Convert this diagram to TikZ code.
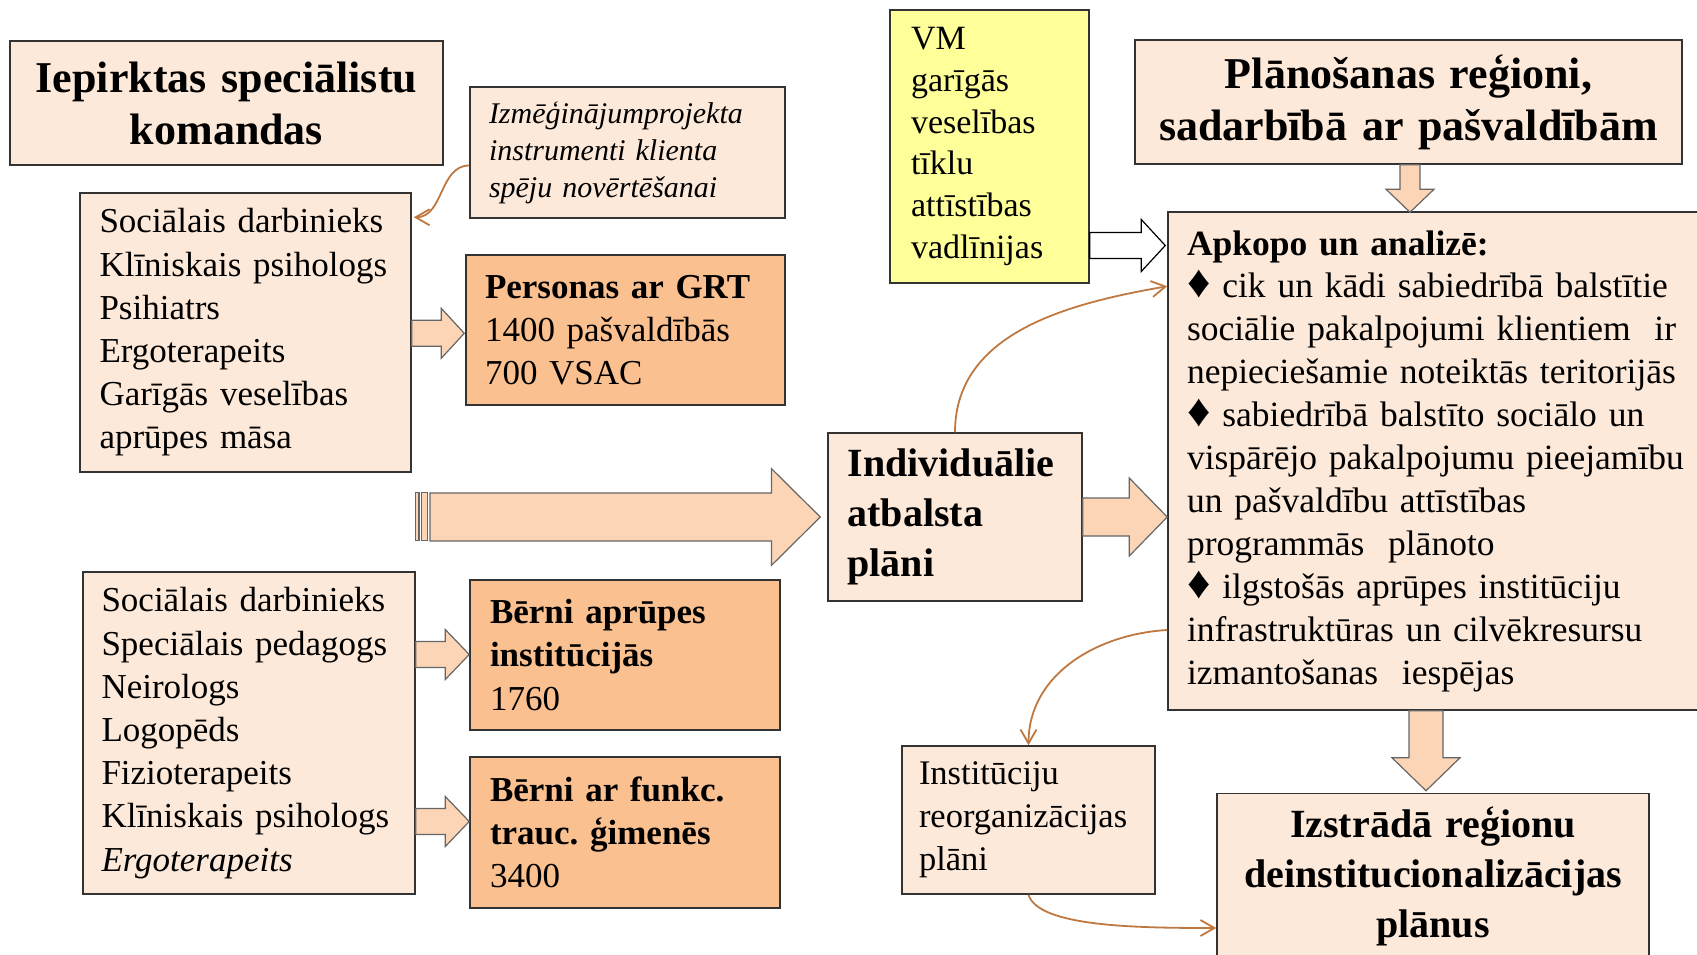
\documentclass[tikz,border=0pt]{standalone}
\usepackage{fontspec}
\setmainfont{Liberation Serif}
\usetikzlibrary{arrows.meta,calc}
\definecolor{peach}{HTML}{FDE9D9}
\definecolor{orangebox}{HTML}{FAC090}
\definecolor{yellowbox}{HTML}{FFFF99}
\definecolor{arrowfill}{HTML}{FBD5B5}
\definecolor{curvecol}{HTML}{BE7840}
% right-pointing block arrow: #1 tail point, #2 tip point, #3 shaft half, #4 head half, #5 head length, #6 style
\newcommand\rblock[6]{\draw[#6] let \p1=#1, \p2=#2 in
  (\x1,\y2+#3) -- (\x2-#5,\y2+#3) -- (\x2-#5,\y2+#4) -- (\x2,\y2) -- (\x2-#5,\y2-#4) -- (\x2-#5,\y2-#3) -- (\x1,\y2-#3) -- cycle;}
% down-pointing block arrow
\newcommand\dblock[6]{\draw[#6] let \p1=#1, \p2=#2 in
  (\x2-#3,\y1) -- (\x2-#3,\y2+#5) -- (\x2-#4,\y2+#5) -- (\x2,\y2) -- (\x2+#4,\y2+#5) -- (\x2+#3,\y2+#5) -- (\x2+#3,\y1) -- cycle;}
\newcommand\fsList{\fontsize{35}{43.2}\selectfont}
\newcommand\fsTitle{\fontsize{44}{52}\selectfont\bfseries}
\newcommand\fsMid{\fontsize{40}{50}\selectfont\bfseries}
\newcommand\dia{{\fontsize{46}{40}\selectfont ♦}}
\frenchspacing
\begin{document}
\begin{tikzpicture}[x=1pt,y=-1pt,
  box/.style={draw=black!80,line width=1.5pt,fill=peach,inner ysep=0pt,align=left},
  cbox/.style={box,align=center},
  blockarrow/.style={draw=black!60,line width=1.2pt,fill=arrowfill},
  whitearrow/.style={draw=black,line width=1.2pt,fill=white},
  curve/.style={draw=curvecol,line width=1.8pt,-{Straight Barb[length=14pt,width=16pt]}}]
\useasboundingbox (0,0) rectangle (1697,955);

% boxes
\node[cbox,text width=413pt,inner xsep=10pt,minimum height=124pt,font=\fsTitle] (A) at (226.5,103)
  {Iepirktas speciālistu\\komandas};
\node[box,text width=277pt,inner xsep=19pt,minimum height=131pt,font=\fontsize{30}{37}\selectfont\itshape] (B) at (627.5,152.5)
  {Izmēģinājumprojekta\\instrumenti klienta\\spēju novērtēšanai};
\node[box,text width=292pt,inner xsep=19.5pt,minimum height=279pt,font=\fsList] (C) at (245.5,332.5)
  {Sociālais darbinieks\\Klīniskais psihologs\\Psihiatrs\\Ergoterapeits\\Garīgās veselības\\aprūpes māsa};
\node[box,fill=orangebox,text width=281pt,inner xsep=19pt,minimum height=150pt,font=\fsList] (D) at (625.5,330)
  {\textbf{Personas ar GRT}\\1400 pašvaldībās\\700 VSAC};
\node[box,text width=295pt,inner xsep=18.5pt,minimum height=322pt,font=\fsList] (E) at (249,733)
  {Sociālais darbinieks\\Speciālais pedagogs\\Neirologs\\Logopēds\\Fizioterapeits\\Klīniskais psihologs\\\textit{Ergoterapeits}};
\node[box,fill=orangebox,text width=270pt,inner xsep=20pt,minimum height=150pt,font=\fsList] (F) at (625,655)
  {\textbf{Bērni aprūpes}\\\textbf{institūcijās}\\1760};
\node[box,fill=orangebox,text width=270pt,inner xsep=20pt,minimum height=151pt,font=\fsList] (G) at (625,832.5)
  {\textbf{Bērni ar funkc.}\\\textbf{trauc. ģimenēs}\\3400};
\node[box,fill=yellowbox,text width=157pt,inner xsep=21pt,minimum height=273pt,font=\fontsize{34}{41.7}\selectfont] (H) at (989.5,146.5)
  {VM\\garīgās\\veselības\\tīklu\\attīstības\\vadlīnijas};
\node[cbox,text width=527pt,inner xsep=10pt,minimum height=124pt,font=\fsTitle] (I) at (1408.5,102)
  {Plānošanas reģioni,\\sadarbībā ar pašvaldībām};
\node[box,text width=514pt,inner xsep=19pt,minimum height=498pt,font=\fontsize{35.5}{42.9}\selectfont] (J) at (1444,461)
  {\textbf{Apkopo un analizē:}\\\dia\ cik un kādi sabiedrībā balstītie\\sociālie pakalpojumi klientiem \ ir\\nepieciešamie noteiktās teritorijās\\\dia\ sabiedrībā balstīto sociālo un\\vispārējo pakalpojumu pieejamību\\un pašvaldību attīstības\\programmās \ plānoto\\\dia\ ilgstošās aprūpes institūciju\\infrastruktūras un cilvēkresursu\\izmantošanas \ iespējas};
\node[box,text width=215pt,inner xsep=19.5pt,minimum height=168pt,font=\fsMid] (K) at (955,517)
  {Individuālie\\atbalsta\\plāni};
\node[box,text width=219pt,inner xsep=17pt,minimum height=148pt,font=\fontsize{34.5}{43}\selectfont] (L) at (1028.5,820)
  {Institūciju\\reorganizācijas\\plāni};
\node[cbox,text width=412pt,inner xsep=10pt,minimum height=165pt,font=\fsMid] (M) at (1433,876)
  {Izstrādā reģionu\\deinstitucionalizācijas\\plānus};

% block arrows
\rblock{(C.east |- 0,333.3)}{($(D.west |- 0,333.3)+(-1,0)$)}{13pt}{25pt}{23pt}{blockarrow}
\rblock{(E.east |- 0,654.5)}{(F.west |- 0,654.5)}{13pt}{25pt}{24pt}{blockarrow}
\rblock{(E.east |- 0,821.5)}{(G.west |- 0,821.5)}{13pt}{25pt}{24pt}{blockarrow}
\rblock{(H.east |- 0,245.5)}{($(J.west |- 0,245.5)+(-2,0)$)}{13pt}{26pt}{24pt}{whitearrow}
\rblock{(K.east)}{(J.west |- K.east)}{19pt}{39pt}{38pt}{blockarrow}
\dblock{(1410,0 |- I.south)}{($(1410,0 |- J.north)+(0,1)$)}{10pt}{24pt}{23pt}{blockarrow}
\dblock{(1426,0 |- J.south)}{($(1426,0 |- M.north)+(0,-2)$)}{17pt}{34pt}{33pt}{blockarrow}

% big striped arrow
\coordinate (bigtail) at (430,517);
\coordinate (bigtip) at ($(K.west)+(-7,0)$);
\draw[blockarrow] (415.7,492.7) rectangle (419,540.7);
\draw[blockarrow] (421.7,492.7) rectangle (427.3,540.7);
\rblock{(bigtail)}{(bigtip)}{24pt}{48.3pt}{48.7pt}{blockarrow}

% curved connectors
\draw[curve] ($(B.west)+(0,13)$) .. controls +(-30,0) and +(30,0) .. ($(C.north east)+(2,25)$);
\draw[curve] (K.north) .. controls +(0,-100) and +(-98,17) .. ($(J.north west)+(0,75)$);
\draw[curve] ($(J.west)+(0,169)$) .. controls +(-70,4) and +(0,-71) .. (L.north);
\draw[curve] (L.south) .. controls +(10,32) and +(-80,0) .. ($(M.west)+(0,52)$);
\end{tikzpicture}
\end{document}
